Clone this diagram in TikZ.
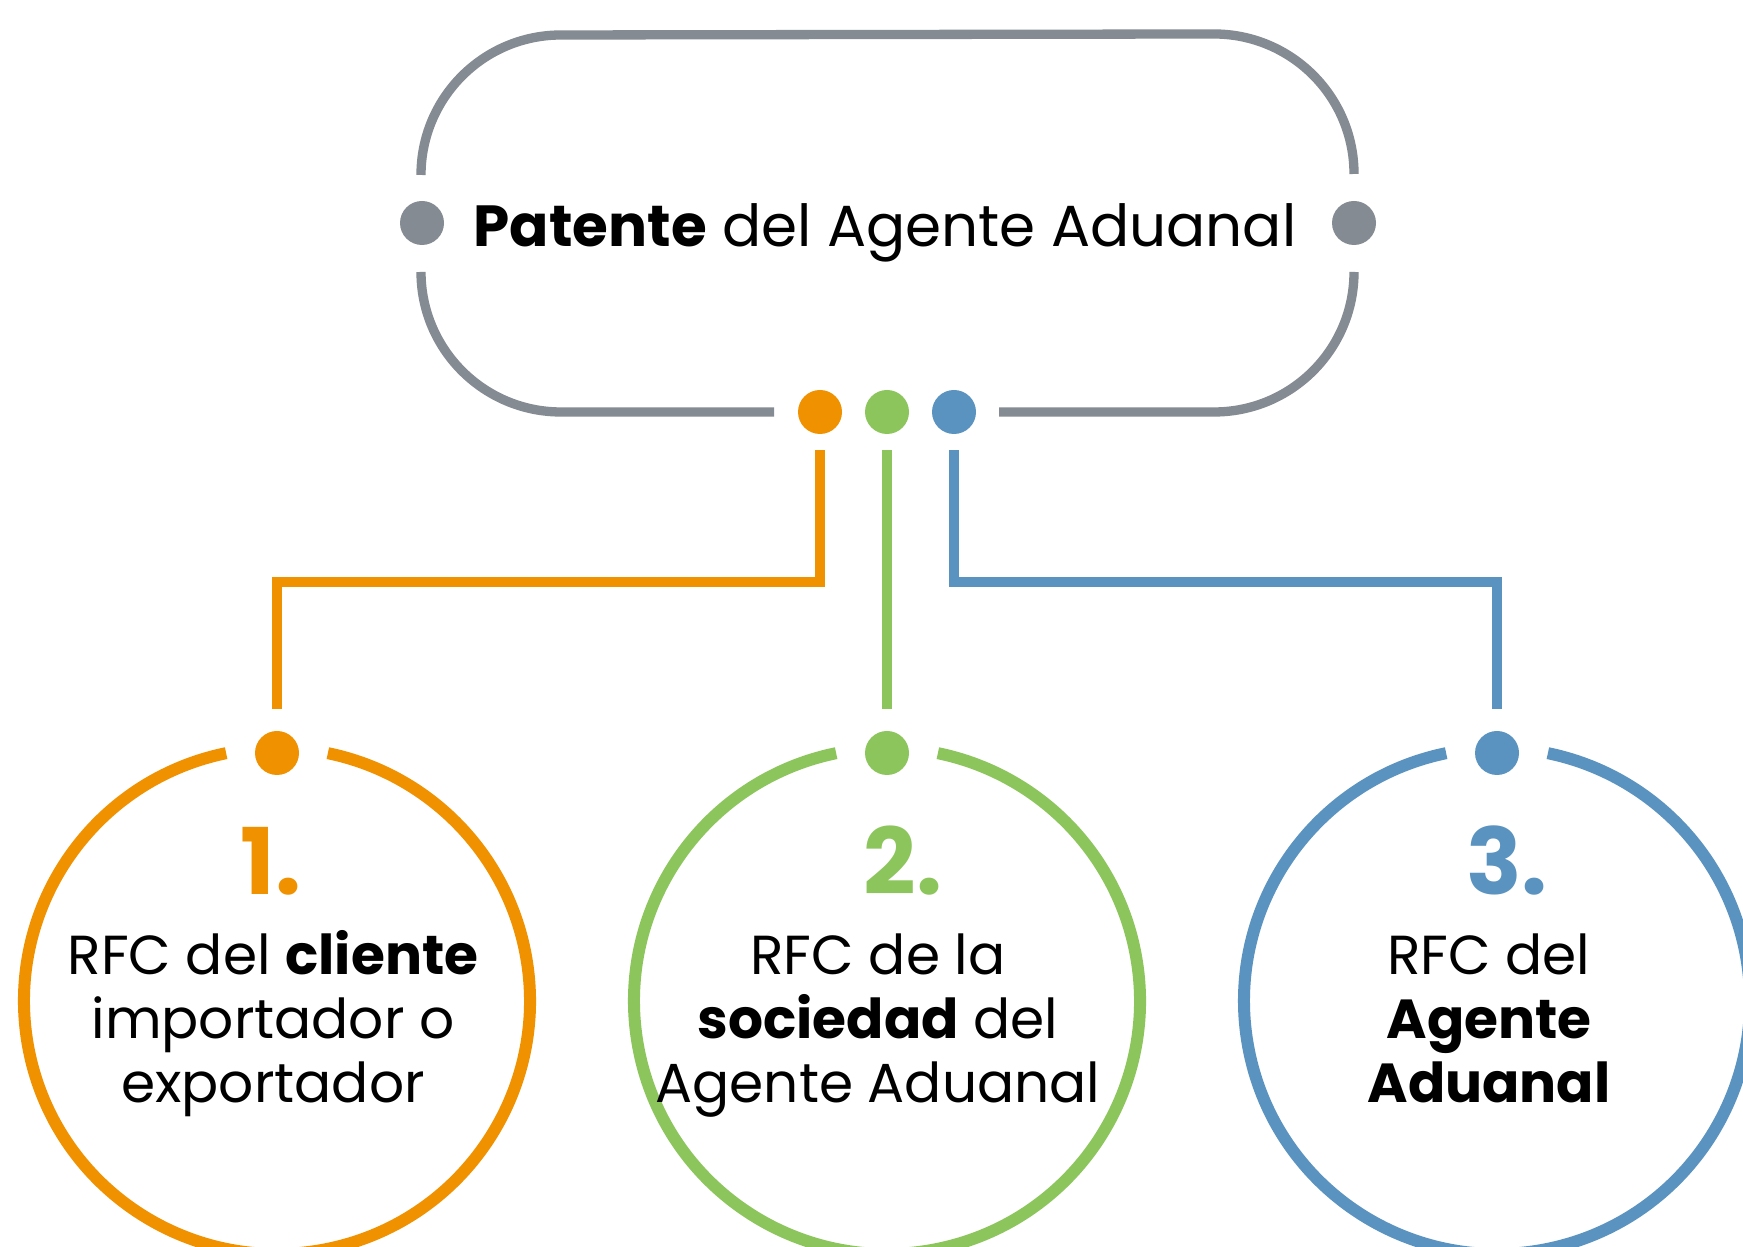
\documentclass[tikz,border=0pt]{standalone}
\usepackage{fontspec}
\setmainfont{Poppins}
\definecolor{cgray}{HTML}{858B93}
\definecolor{corange}{HTML}{F09100}
\definecolor{cgreen}{HTML}{8DC55D}
\definecolor{cblue}{HTML}{5A93BF}
\begin{document}
\begin{tikzpicture}[x=0.5pt,y=0.5pt,
  dot/.style={circle,inner sep=0pt,minimum size=22pt,fill=#1},
  frame/.style={draw=cgray,line width=4.65pt,line cap=butt},
  conn/.style={draw=#1,line width=4.65pt,line cap=butt,line join=miter},
  ring/.style={draw=#1,line width=6pt,line cap=butt},
  numtxt/.style={text=#1,font=\fontsize{46}{46}\selectfont\bfseries,anchor=base,inner sep=0pt},
  bodytxt/.style={font=\fontsize{27.5}{32}\selectfont,align=center,anchor=base,inner sep=0pt}]
\useasboundingbox[fill=white] (0,0) rectangle (1743,1246);
% top frame
\draw[frame] (421,1071) arc[start angle=180,end angle=90,radius=70pt] -- (1214,1212) arc[start angle=90,end angle=0,radius=70pt];
\draw[frame] (421,974) arc[start angle=180,end angle=270,radius=70pt] -- (774,834);
\draw[frame] (999,834) -- (1214,834) arc[start angle=270,end angle=360,radius=70pt];
\node[dot=cgray] (gL) at (422,1023) {};
\node[dot=cgray] (gR) at (1354,1023) {};
\node[anchor=base,inner sep=0pt,font=\fontsize{29}{32}\selectfont] (title) at (885,999) {\textbf{Patente} del Agente Aduanal};
% top colored dots
\node[dot=corange] (dO) at (820,834) {};
\node[dot=cgreen] (dG) at (887,834) {};
\node[dot=cblue] (dB) at (954,834) {};
% bottom dots
\node[dot=corange] (bO) at (277,493) {};
\node[dot=cgreen] (bG) at (887,493) {};
\node[dot=cblue] (bB) at (1497,493) {};
\coordinate (kO) at (277,664);
\coordinate (kB) at (1497,664);
% connectors
\draw[conn=corange] ([yshift=-8pt]dO.south) |- (kO) -- ([yshift=11pt]bO.north);
\draw[conn=cgreen] ([yshift=-8pt]dG.south) -- ([yshift=11pt]bG.north);
\draw[conn=cblue] ([yshift=-8pt]dB.south) |- (kB) -- ([yshift=11pt]bB.north);
% rings
\coordinate (cO) at (277,245);
\coordinate (cG) at (887,245);
\coordinate (cB) at (1497,245);
\draw[ring=corange] ([shift={(101.6:126.5pt)}]cO) arc[start angle=101.6,end angle=438.4,radius=126.5pt];
\draw[ring=cgreen] ([shift={(101.6:126.5pt)}]cG) arc[start angle=101.6,end angle=438.4,radius=126.5pt];
\draw[ring=cblue] ([shift={(101.6:126.5pt)}]cB) arc[start angle=101.6,end angle=438.4,radius=126.5pt];
% numbers
\node[numtxt=corange] (n1) at (271,351) {1.};
\node[numtxt=cgreen] (n2) at (903,351) {2.};
\node[numtxt=cblue] (n3) at (1507,351) {3.};
% texts (base anchor = last line baseline)
\node[bodytxt] (t1) at (273,143) {RFC del \textbf{cliente}\\importador o\\exportador};
\node[bodytxt] (t2) at (878,143) {RFC de la\\\textbf{sociedad} del\\Agente Aduanal};
\node[bodytxt] (t3) at (1489,143) {RFC del\\\textbf{Agente}\\\textbf{Aduanal}};
\end{tikzpicture}
\end{document}
